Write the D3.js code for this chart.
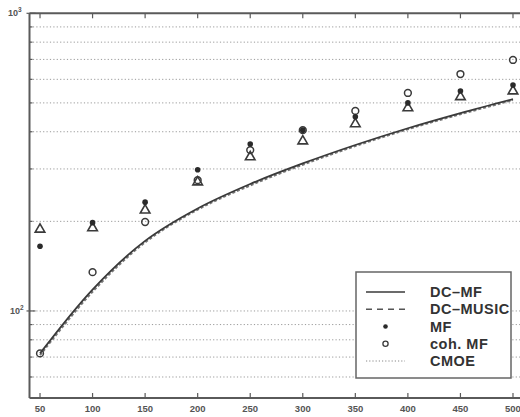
<!DOCTYPE html>
<html>
<head>
<meta charset="utf-8">
<script src="https://cdn.jsdelivr.net/npm/d3@7/dist/d3.min.js"></script>
<style>
  html, body { margin: 0; padding: 0; background: #fff; }
  svg { display: block; font-family: "Liberation Sans", Arial, sans-serif; }
</style>
</head>
<body>
<svg id="chart" width="520" height="417"></svg>
<script>
// Number of snapshots
const snapshots = [50, 100, 150, 200, 250, 300, 350, 400, 450, 500];
// Estimation error for each method
const dcMF    = [72, 118, 172, 221, 267, 313, 361, 411, 462, 515];
const dcMUSIC = [71, 116, 170, 219, 264, 310, 358, 408, 458, 511];
const mf      = [165, 198, 232, 298, 364, 405, 449, 500, 548, 574];
const cohMF   = [72, 135, 199, 275, 347, 405, 470, 540, 625, 697];
const cmoe    = [188, 190, 218, 271, 329, 372, 425, 481, 524, 548];

const xTicks = [50, 100, 150, 200, 250, 300, 350, 400, 450, 500];
const yMajor = [100, 1000];
const yMinor = [60, 70, 80, 90, 200, 300, 400, 500, 600, 700, 800, 900];
const legendItems = ["DC–MF", "DC–MUSIC", "MF", "coh. MF", "CMOE"];

(function draw() {
  const svg = d3.select("#chart");
  const pL = 29.5, pR = 523.5, pT = 13.3, pB = 398;
  const axisColor = "#5a5a5a";
  const inkColor = "#3a3a3a";

  const x = d3.scaleLinear().domain([40, 510]).range([pL, pR]);
  const y = d3.scaleLog().domain([51, 1000]).range([pB, pT]);

  // dotted horizontal grid at the log ticks
  svg.append("g").selectAll("line")
    .data(yMinor.concat([100]))
    .join("line")
    .attr("x1", pL).attr("x2", pR)
    .attr("y1", d => y(d)).attr("y2", d => y(d))
    .attr("stroke", "#9a9a9a")
    .attr("stroke-width", 1)
    .attr("stroke-dasharray", "1.2,2.2");

  // frame
  const frame = svg.append("g").attr("stroke", axisColor).attr("fill", "none").attr("stroke-width", 2);
  frame.append("line").attr("x1", pL).attr("x2", pR).attr("y1", pT).attr("y2", pT);
  frame.append("line").attr("x1", pL).attr("x2", pR).attr("y1", pB).attr("y2", pB);
  frame.append("line").attr("x1", pL).attr("x2", pL).attr("y1", pT).attr("y2", pB);

  // x ticks (inward, top and bottom)
  const xt = svg.append("g").attr("stroke", axisColor).attr("stroke-width", 1.2);
  xt.selectAll("line.tb").data(xTicks).join("line").attr("class", "tb")
    .attr("x1", d => x(d)).attr("x2", d => x(d))
    .attr("y1", pB).attr("y2", pB - 5);
  xt.selectAll("line.tt").data(xTicks).join("line").attr("class", "tt")
    .attr("x1", d => x(d)).attr("x2", d => x(d))
    .attr("y1", pT).attr("y2", pT + 5);

  svg.append("g").selectAll("text").data(xTicks).join("text")
    .attr("x", d => x(d)).attr("y", 412)
    .attr("text-anchor", "middle")
    .attr("font-size", 9.5).attr("font-weight", "bold")
    .attr("fill", "#555")
    .text(d => d);

  // y ticks
  const yt = svg.append("g").attr("stroke", axisColor).attr("stroke-width", 1.2);
  yt.selectAll("line.maj").data(yMajor).join("line").attr("class", "maj")
    .attr("x1", pL - 3).attr("x2", pL + 6)
    .attr("y1", d => y(d)).attr("y2", d => y(d));
  yt.selectAll("line.min").data(yMinor).join("line").attr("class", "min")
    .attr("x1", pL).attr("x2", pL + 3)
    .attr("y1", d => y(d)).attr("y2", d => y(d));

  const yl = svg.append("g").attr("fill", "#555").attr("font-weight", "bold");
  yMajor.forEach(v => {
    const t = yl.append("text")
      .attr("x", v === 1000 ? 8 : 10).attr("y", y(v) + 3)
      .attr("font-size", 9);
    t.append("tspan").text("10");
    t.append("tspan").attr("dy", -4).attr("font-size", 6.5).text(Math.round(Math.log10(v)));
  });

  // curves
  const line = d3.line()
    .x((d, i) => x(snapshots[i]))
    .y(d => y(d))
    .curve(d3.curveCatmullRom);

  svg.append("path").datum(dcMUSIC)
    .attr("d", line).attr("fill", "none")
    .attr("stroke", "#777").attr("stroke-width", 2)
    .attr("stroke-dasharray", "3,2");
  svg.append("path").datum(dcMF)
    .attr("d", line).attr("fill", "none")
    .attr("stroke", inkColor).attr("stroke-width", 1.8);

  // markers
  const tri = d3.symbol().type(d3.symbolTriangle).size(40);
  svg.append("g").selectAll("path").data(cmoe).join("path")
    .attr("d", tri)
    .attr("transform", (d, i) => `translate(${x(snapshots[i])},${y(d)})`)
    .attr("fill", "none").attr("stroke", inkColor).attr("stroke-width", 1.6);

  svg.append("g").selectAll("circle").data(cohMF).join("circle")
    .attr("cx", (d, i) => x(snapshots[i])).attr("cy", d => y(d))
    .attr("r", 3.4)
    .attr("fill", "none").attr("stroke", inkColor).attr("stroke-width", 1.5);

  svg.append("g").selectAll("circle").data(mf).join("circle")
    .attr("cx", (d, i) => x(snapshots[i])).attr("cy", d => y(d))
    .attr("r", 2.8)
    .attr("fill", "#2a2a2a");

  // legend
  const lg = svg.append("g");
  lg.append("rect")
    .attr("x", 356).attr("y", 272).attr("width", 155).attr("height", 106)
    .attr("fill", "#fff").attr("stroke", "#666").attr("stroke-width", 1.5);

  const rowY = d3.scalePoint().domain(legendItems).range([292, 361]);
  const sx1 = 366, sx2 = 405, tx = 430;

  lg.append("line")
    .attr("x1", sx1).attr("x2", sx2)
    .attr("y1", rowY(legendItems[0])).attr("y2", rowY(legendItems[0]))
    .attr("stroke", inkColor).attr("stroke-width", 1.6);
  lg.append("line")
    .attr("x1", sx1).attr("x2", sx2)
    .attr("y1", rowY(legendItems[1])).attr("y2", rowY(legendItems[1]))
    .attr("stroke", "#555").attr("stroke-width", 1.6).attr("stroke-dasharray", "6,5");
  lg.append("circle")
    .attr("cx", (sx1 + sx2) / 2).attr("cy", rowY(legendItems[2])).attr("r", 2.3)
    .attr("fill", "#2a2a2a");
  lg.append("circle")
    .attr("cx", (sx1 + sx2) / 2).attr("cy", rowY(legendItems[3])).attr("r", 2.6)
    .attr("fill", "none").attr("stroke", inkColor).attr("stroke-width", 1.3);
  lg.append("line")
    .attr("x1", sx1).attr("x2", sx2)
    .attr("y1", rowY(legendItems[4])).attr("y2", rowY(legendItems[4]))
    .attr("stroke", "#888").attr("stroke-width", 1).attr("stroke-dasharray", "1.2,2");

  lg.selectAll("text").data(legendItems).join("text")
    .attr("x", tx).attr("y", d => rowY(d) + 5)
    .attr("font-size", 14.5).attr("font-weight", "bold")
    .attr("letter-spacing", 0.5)
    .attr("fill", "#333")
    .text(d => d);
})();
</script>
</body>
</html>
